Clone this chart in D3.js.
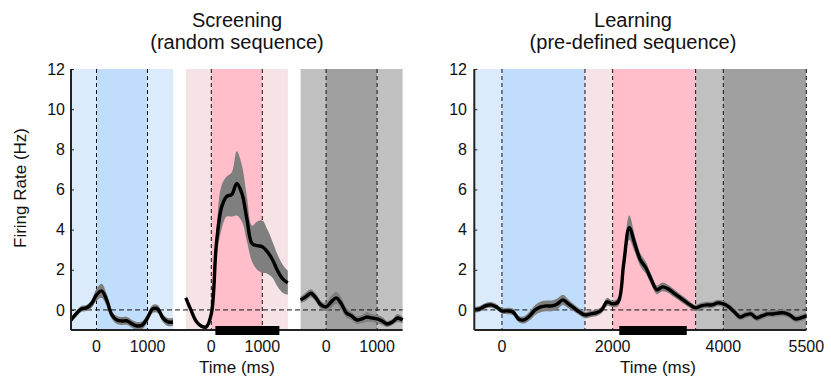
<!DOCTYPE html>
<html>
<head>
<meta charset="utf-8">
<script src="https://cdn.jsdelivr.net/npm/d3@7"></script>
<style>
  body { margin: 0; background: #fff; }
  text { font-family: "Liberation Sans", Arial, Helvetica, sans-serif; fill: #111; }
</style>
</head>
<body>
<svg id="chart" width="831" height="383"></svg>
<script>
// ---- data (firing rate in Hz, baseline-subtracted) ----
const tSeg = [-500, -400, -300, -200, -100, 0, 100, 200, 300, 400, 500, 600, 700, 800, 900, 1000, 1100, 1200, 1300, 1400, 1500];

// Screening, segment 1 (blue)
const scrBlue = [-0.5, -0.2, 0.05, 0.1, 0.3, 0.75, 0.95, 0.5, -0.25, -0.5, -0.55, -0.55, -0.7, -0.8, -0.75, -0.4, 0.05, 0.05, -0.4, -0.6, -0.6];
const scrBlueSem = [0.15, 0.15, 0.15, 0.15, 0.2, 0.3, 0.35, 0.3, 0.2, 0.2, 0.2, 0.2, 0.2, 0.2, 0.2, 0.2, 0.2, 0.2, 0.2, 0.2, 0.2];
// Screening, segment 2 (pink)
const scrPink = [0.6, 0.0, -0.55, -0.8, -0.85, -0.2, 3.3, 5.1, 5.65, 5.75, 6.3, 5.8, 4.5, 3.3, 3.2, 3.15, 2.9, 2.5, 1.95, 1.55, 1.35];
const scrPinkSem = [0.1, 0.1, 0.1, 0.1, 0.1, 0.2, 0.7, 1.1, 1.0, 1.1, 1.6, 1.4, 1.1, 0.9, 1.2, 1.3, 1.1, 0.9, 0.8, 0.7, 0.6];
// Screening, segment 3 (gray)
const scrGray = [0.5, 0.65, 0.83, 0.6, 0.25, 0.15, 0.4, 0.6, 0.3, -0.15, -0.3, -0.5, -0.45, -0.35, -0.4, -0.45, -0.55, -0.7, -0.6, -0.4, -0.5];
const scrGraySem = [0.15, 0.2, 0.2, 0.2, 0.2, 0.2, 0.3, 0.3, 0.3, 0.25, 0.2, 0.2, 0.2, 0.25, 0.2, 0.2, 0.2, 0.15, 0.15, 0.2, 0.15];

// Learning, continuous sequence
const tLearn = [-500, -400, -300, -200, -100, 0, 100, 200, 300, 400, 500, 600, 700, 800, 900, 1000,
  1100, 1200, 1300, 1400, 1500, 1600, 1700, 1800, 1900, 2000, 2100, 2200, 2300, 2400, 2500,
  2600, 2700, 2800, 2900, 3000, 3100, 3200, 3300, 3400, 3500, 3600, 3700, 3800, 3900, 4000,
  4100, 4200, 4300, 4400, 4500, 4600, 4700, 4800, 4900, 5000, 5100, 5200, 5300, 5400, 5500];
const learnRate = [0.0, 0.05, 0.2, 0.25, 0.15, -0.05, -0.05, -0.1, -0.45, -0.5, -0.3, 0.0, 0.15, 0.2, 0.2, 0.3,
  0.5, 0.3, 0.1, -0.1, -0.25, -0.2, -0.15, 0.0, 0.4, 0.3, 0.4, 2.3, 4.1, 3.3, 2.5,
  2.1, 1.5, 1.0, 1.15, 1.05, 0.85, 0.65, 0.45, 0.25, 0.1, 0.2, 0.25, 0.25, 0.35, 0.3,
  0.15, -0.1, -0.35, -0.25, -0.2, -0.4, -0.3, -0.2, -0.2, -0.15, -0.15, -0.25, -0.45, -0.4, -0.3];
const learnSem = [0.14, 0.14, 0.14, 0.14, 0.14, 0.14, 0.16, 0.16, 0.16, 0.18, 0.22, 0.25, 0.27, 0.27, 0.27, 0.27,
  0.25, 0.22, 0.18, 0.16, 0.16, 0.16, 0.16, 0.16, 0.2, 0.16, 0.22, 0.45, 0.6, 0.42, 0.32,
  0.3, 0.25, 0.22, 0.22, 0.2, 0.2, 0.18, 0.18, 0.16, 0.16, 0.16, 0.16, 0.16, 0.16, 0.16,
  0.16, 0.16, 0.16, 0.16, 0.16, 0.16, 0.16, 0.16, 0.16, 0.16, 0.16, 0.16, 0.16, 0.16, 0.16];

// epochs: [start, end, colour]
const blueEpochs = [[-500, 0, '#dcebfc'], [0, 1000, '#c0defc'], [1000, 1500, '#dcebfc']];
const pinkEpochs = [[-500, 0, '#f6e3e6'], [0, 1000, '#ffbeca'], [1000, 1500, '#f6e3e6']];
const grayEpochs = [[-500, 0, '#c0c0c0'], [0, 1000, '#a0a0a0'], [1000, 1500, '#c0c0c0']];
const learnEpochs = [[-500, 0, '#dcebfc'], [0, 1500, '#c0defc'], [1500, 2000, '#f6e3e6'],
  [2000, 3500, '#ffbeca'], [3500, 4000, '#c0c0c0'], [4000, 5500, '#a0a0a0']];
const segMarkers = [0, 1000];
const learnMarkers = [0, 1500, 2000, 3500, 4000, 5500];
const segTicks = [0, 1000];
const learnTicks = [0, 2000, 4000, 5500];
const yTicks = [0, 2, 4, 6, 8, 10, 12];
// significance bars (ms)
const scrSigBar = [80, 1335];
const learnSigBar = [2120, 3340];

// ---- layout ----
const svg = d3.select('#chart');
const plotTop = 69, plotBottom = 330;
const y = d3.scaleLinear().domain([-1, 12]).range([plotBottom, plotTop]);

const area = (x) => d3.area()
  .x((d) => x(d.t))
  .y0((d) => y(d.m - d.s))
  .y1((d) => y(d.m + d.s))
  .curve(d3.curveCatmullRom);
const line = (x) => d3.line()
  .x((d) => x(d.t))
  .y((d) => y(d.m))
  .curve(d3.curveCatmullRom);

function drawEpochs(g, x, epochs, markers) {
  g.selectAll(null).data(epochs).enter().append('rect')
    .attr('x', (d) => x(d[0]))
    .attr('width', (d) => x(d[1]) - x(d[0]))
    .attr('y', plotTop)
    .attr('height', plotBottom - plotTop)
    .attr('fill', (d) => d[2]);
  g.selectAll(null).data(markers).enter().append('line')
    .attr('x1', (d) => x(d)).attr('x2', (d) => x(d))
    .attr('y1', plotTop).attr('y2', plotBottom)
    .attr('stroke', '#111').attr('stroke-width', 1)
    .attr('stroke-dasharray', '4,3');
}

function drawTrace(g, x, times, mean, sem) {
  const pts = times.map((t, i) => ({ t: t, m: mean[i], s: sem[i] }));
  g.append('path').datum(pts).attr('d', area(x)).attr('fill', '#7f7f7f');
  g.append('path').datum(pts).attr('d', line(x))
    .attr('fill', 'none').attr('stroke', '#000').attr('stroke-width', 3.4)
    .attr('stroke-linejoin', 'round');
}

function drawYAxis(x0, labelX) {
  const ax = svg.append('g').attr('transform', `translate(${x0},0)`)
    .call(d3.axisRight(y).tickValues(yTicks).tickSize(3).tickFormat(''));
  ax.select('.domain').remove();
  ax.selectAll('line').attr('stroke', '#222');
  svg.selectAll(null).data(yTicks).enter().append('text')
    .attr('x', labelX).attr('y', (d) => y(d)).attr('dy', '0.35em')
    .attr('text-anchor', 'end').style('font-size', '16px').text((d) => d);
  svg.append('line').attr('x1', x0).attr('x2', x0).attr('y1', plotTop).attr('y2', plotBottom)
    .attr('stroke', '#222').attr('stroke-width', 2);
}

function drawXLabels(x, ticks) {
  svg.selectAll(null).data(ticks).enter().append('text')
    .attr('x', (d) => x(d)).attr('y', 352)
    .attr('text-anchor', 'middle').style('font-size', '16px').text((d) => d);
}

function sigBar(x, range) {
  svg.append('rect').attr('x', x(range[0])).attr('width', x(range[1]) - x(range[0]))
    .attr('y', plotBottom - 4).attr('height', 9).attr('fill', '#000');
}

function title(cx, l1, l2) {
  svg.append('text').attr('x', cx).attr('y', 27).attr('text-anchor', 'middle')
    .style('font-size', '20px').text(l1);
  svg.append('text').attr('x', cx).attr('y', 49).attr('text-anchor', 'middle')
    .style('font-size', '20px').text(l2);
}

// ---- left panel: Screening ----
const segW = 102, segGap = 12.8, leftX0 = 71;
const segs = [
  { epochs: blueEpochs, mean: scrBlue, sem: scrBlueSem },
  { epochs: pinkEpochs, mean: scrPink, sem: scrPinkSem },
  { epochs: grayEpochs, mean: scrGray, sem: scrGraySem },
];
const left = svg.append('g');
segs.forEach((s, i) => {
  const x0 = leftX0 + i * (segW + segGap);
  s.x = d3.scaleLinear().domain([-500, 1500]).range([x0, x0 + segW]);
  drawEpochs(left, s.x, s.epochs, segMarkers);
});
const leftEnd = leftX0 + 3 * segW + 2 * segGap;
left.append('line').attr('x1', leftX0).attr('x2', leftEnd)
  .attr('y1', y(0)).attr('y2', y(0))
  .attr('stroke', '#111').attr('stroke-dasharray', '5,3');
segs.forEach((s) => drawTrace(left, s.x, tSeg, s.mean, s.sem));
svg.append('line').attr('x1', leftX0).attr('x2', leftEnd).attr('y1', plotBottom).attr('y2', plotBottom)
  .attr('stroke', '#222').attr('stroke-width', 2);
sigBar(segs[1].x, scrSigBar);
drawYAxis(leftX0, 65);
segs.forEach((s) => drawXLabels(s.x, segTicks));
title(237, 'Screening', '(random sequence)');
svg.append('text').attr('x', 237).attr('y', 373).attr('text-anchor', 'middle')
  .style('font-size', '17px').text('Time (ms)');
svg.append('text').attr('transform', `translate(26,188) rotate(-90)`)
  .attr('text-anchor', 'middle').style('font-size', '17px').text('Firing Rate (Hz)');

// ---- right panel: Learning ----
const xR = d3.scaleLinear().domain([-500, 5500]).range([474.3, 806.3]);
const right = svg.append('g');
drawEpochs(right, xR, learnEpochs, learnMarkers);
right.append('line').attr('x1', xR(-500)).attr('x2', xR(5500))
  .attr('y1', y(0)).attr('y2', y(0))
  .attr('stroke', '#111').attr('stroke-dasharray', '5,3');
drawTrace(right, xR, tLearn, learnRate, learnSem);
svg.append('line').attr('x1', xR(-500)).attr('x2', xR(5500)).attr('y1', plotBottom).attr('y2', plotBottom)
  .attr('stroke', '#222').attr('stroke-width', 2);
sigBar(xR, learnSigBar);
drawYAxis(xR(-500), 467);
drawXLabels(xR, learnTicks);
title(633, 'Learning', '(pre-defined sequence)');
svg.append('text').attr('x', 658).attr('y', 373).attr('text-anchor', 'middle')
  .style('font-size', '17px').text('Time (ms)');
</script>
</body>
</html>
